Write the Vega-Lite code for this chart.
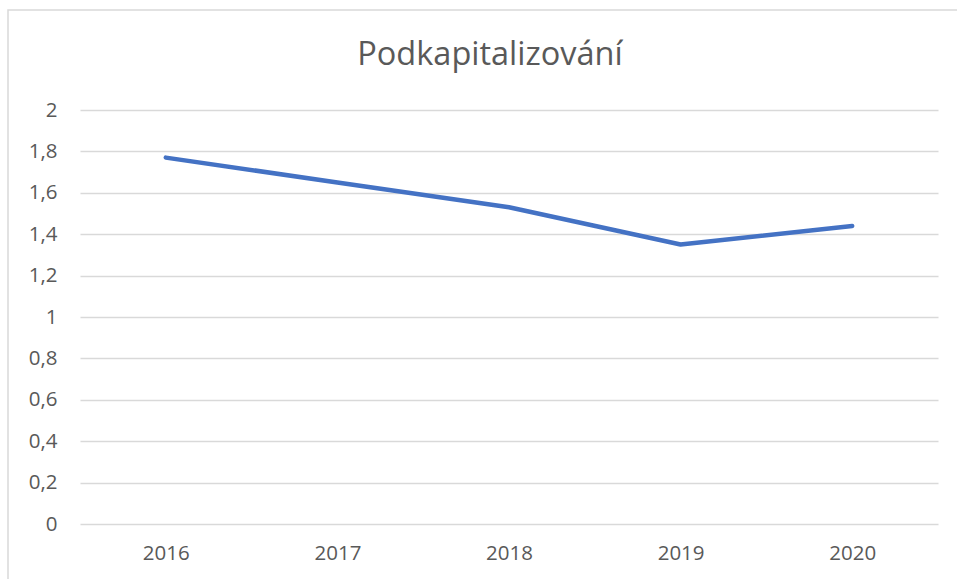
{
  "$schema": "https://vega.github.io/schema/vega-lite/v6.json",
  "autosize": "none",
  "padding": {"left": 8, "top": 10, "right": 0, "bottom": 0},
  "width": 964,
  "height": 580,
  "background": "white",
  "title": {
    "text": "Podkapitalizování",
    "font": "Open Sans",
    "fontSize": 32.5,
    "fontWeight": "normal",
    "color": "#595959",
    "anchor": "middle",
    "baseline": "alphabetic",
    "offset": -87
  },
  "data": {
    "values": [
      {"year": "2016", "value": 1.77},
      {"year": "2017", "value": 1.65},
      {"year": "2018", "value": 1.53},
      {"year": "2019", "value": 1.35},
      {"year": "2020", "value": 1.44}
    ]
  },
  "mark": {"type": "line", "color": "#4472C4", "strokeWidth": 4.5, "strokeCap": "round", "strokeJoin": "round"},
  "encoding": {
    "x": {
      "field": "year",
      "type": "ordinal",
      "scale": {"type": "point", "padding": 0.5, "range": [72, 930]},
      "axis": {
        "title": null,
        "labelAngle": 0,
        "domain": false,
        "ticks": false,
        "offset": -66,
        "labelPadding": 19,
        "labelFont": "Open Sans",
        "labelFontSize": 20.5,
        "labelColor": "#595959"
      }
    },
    "y": {
      "field": "value",
      "type": "quantitative",
      "scale": {"domain": [0, 2], "nice": false, "range": [514, 100]},
      "axis": {
        "title": null,
        "values": [0, 0.2, 0.4, 0.6, 0.8, 1, 1.2, 1.4, 1.6, 1.8, 2],
        "labelExpr": "replace(format(datum.value, '~g'), '.', ',')",
        "domain": false,
        "ticks": false,
        "offset": -72,
        "labelPadding": 23,
        "labelFont": "Open Sans",
        "labelFontSize": 20.5,
        "labelColor": "#595959",
        "gridColor": "#d9d9d9",
        "gridWidth": 1.5
      }
    }
  },
  "config": {"view": {"stroke": "#d9d9d9", "strokeWidth": 1.5}}
}
